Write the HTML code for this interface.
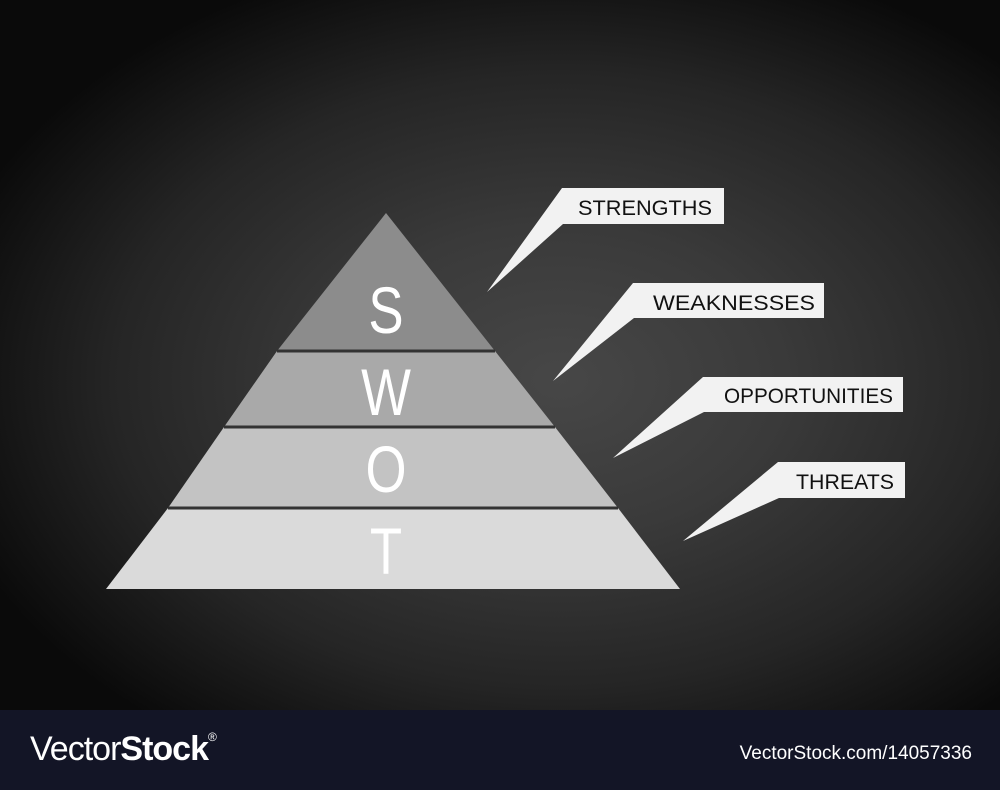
<!DOCTYPE html>
<html><head><meta charset="utf-8"><style>
html,body{margin:0;padding:0;}
body{width:1000px;height:790px;overflow:hidden;position:relative;font-family:"Liberation Sans",sans-serif;}
#bg{position:absolute;left:0;top:0;width:1000px;height:710px;background:radial-gradient(ellipse 640px 440px at 560px 380px,#474747 0%,#3a3a3a 35%,#252525 70%,#0a0a0a 100%);}
#foot{position:absolute;left:0;top:710px;width:1000px;height:80px;background:#131526;color:#fff;}
</style></head><body>
<div id="bg"></div>
<svg width="1000" height="710" style="position:absolute;left:0;top:0">
<polygon points="386,213 495,351 277,351" fill="#8c8c8c"/>
<polygon points="277,351 495,351 555,427 224,427" fill="#a9a9a9"/>
<polygon points="224,427 555,427 618,508 168,508" fill="#c3c3c3"/>
<polygon points="168,508 618,508 680,589 106,589" fill="#dadada"/>
<line x1="277" y1="351" x2="495" y2="351" stroke="#333" stroke-width="3"/>
<line x1="224" y1="427" x2="555" y2="427" stroke="#333" stroke-width="3"/>
<line x1="168" y1="508" x2="618" y2="508" stroke="#333" stroke-width="3"/>
<g fill="#fff" font-family="Liberation Sans, sans-serif" font-size="66" text-anchor="middle" transform="translate(386,0) scale(0.8,1)">
<text x="0" y="333">S</text>
<text x="0" y="415">W</text>
<text x="0" y="492">O</text>
<text x="0" y="574">T</text>
</g>
<g fill="#f2f2f2">
<polygon points="562,188 724,188 724,224 563,224 487,292"/>
<polygon points="633,283 824,283 824,318 634,318 553,381"/>
<polygon points="703,377 903,377 903,412 704,412 613,458"/>
<polygon points="778,462 905,462 905,498 779,498 683,541"/>
</g>
<g fill="#111" font-family="Liberation Sans, sans-serif" font-size="21" text-anchor="end">
<text x="712" y="215" textLength="134" lengthAdjust="spacingAndGlyphs">STRENGTHS</text>
<text x="815" y="310" textLength="162" lengthAdjust="spacingAndGlyphs">WEAKNESSES</text>
<text x="893" y="403" textLength="169" lengthAdjust="spacingAndGlyphs">OPPORTUNITIES</text>
<text x="894" y="489" textLength="98" lengthAdjust="spacingAndGlyphs">THREATS</text>
</g>
</svg>
<div id="foot">
<div style="position:absolute;left:30px;top:20px;font-size:34px;letter-spacing:-1px;"><span style="font-weight:300">Vector</span><b>Stock</b><sup style="font-size:12px;vertical-align:top">®</sup></div>
<div style="position:absolute;right:28px;top:33px;font-size:19px;">VectorStock.com/14057336</div>
</div>
</body></html>
